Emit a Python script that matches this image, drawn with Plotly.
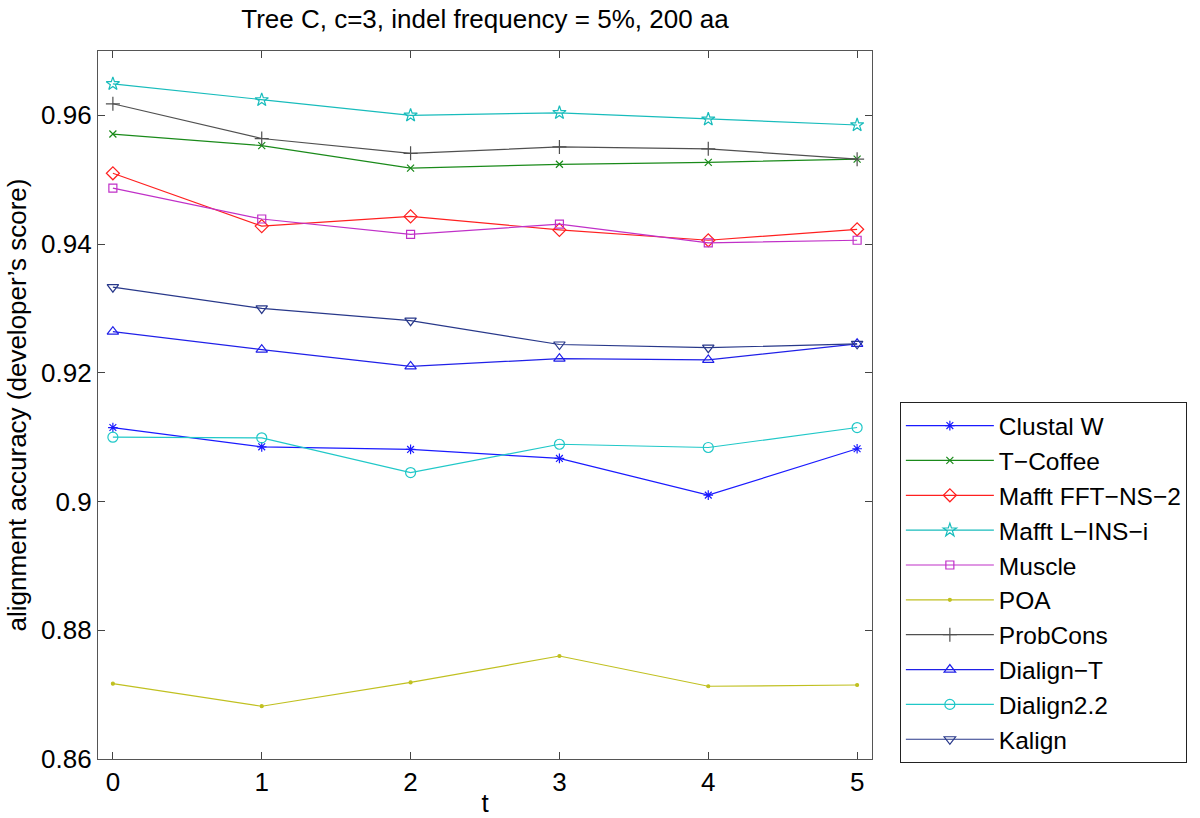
import plotly.graph_objects as go

t = [0, 1, 2, 3, 4, 5]
names = ["Clustal W", "T\u2212Coffee", "Mafft FFT\u2212NS\u22122", "Mafft L\u2212INS\u2212i",
         "Muscle", "POA", "ProbCons", "Dialign\u2212T", "Dialign2.2", "Kalign"]
clustal = [0.9115, 0.9085, 0.9081, 0.9067, 0.9010, 0.9082]
tcoffee = [0.9571, 0.9553, 0.9518, 0.9524, 0.9527, 0.9532]
mafft_fft = [0.9510, 0.9428, 0.9443, 0.9422, 0.9406, 0.9423]
mafft_lins = [0.9649, 0.9624, 0.9600, 0.9604, 0.9594, 0.9585]
muscle = [0.9487, 0.9439, 0.9415, 0.9431, 0.9402, 0.9406]
poa = [0.8717, 0.8682, 0.8719, 0.8760, 0.8713, 0.8715]
probcons = [0.9618, 0.9564, 0.9541, 0.9551, 0.9548, 0.9532]
dialign_t = [0.9264, 0.9236, 0.9210, 0.9222, 0.9220, 0.9245]
dialign22 = [0.9100, 0.9099, 0.9045, 0.9089, 0.9084, 0.9115]
kalign = [0.9333, 0.9300, 0.9281, 0.9244, 0.9239, 0.9245]
series = [clustal, tcoffee, mafft_fft, mafft_lins, muscle, poa, probcons, dialign_t, dialign22, kalign]

colors = ["#1a1aff", "#1a8a1a", "#ff2020", "#18bcbc", "#c030c8", "#c0c020",
          "#505050", "#2020e8", "#20c8c8", "#28388a"]
symbols = ["asterisk-open", "x-thin-open", "diamond-open", "star-open", "square-open",
           "circle", "cross-thin-open", "triangle-up-open", "circle-open", "triangle-down-open"]
sizes = [8, 7, 10, 10, 8, 3, 10, 10, 10, 10]

fig = go.Figure()
for n, s, c, sym, sz in zip(names, series, colors, symbols, sizes):
    fig.add_trace(go.Scatter(
        x=t, y=s, name=n, mode="lines+markers", legendgroup=n,
        line=dict(color=c, width=1.2),
        marker=dict(symbol=sym, size=sz, color=c, line=dict(color=c, width=1.2)),
    ))

font_family = "Liberation Sans, Arial, sans-serif"
fig.update_layout(
    width=1200, height=818,
    paper_bgcolor="white", plot_bgcolor="white",
    margin=dict(l=98, r=328, t=51, b=59),
    font=dict(family=font_family, size=26, color="black"),
    title=dict(text="Tree C, c=3, indel frequency = 5%, 200 aa", x=(98 + 872) / 2 / 1200,
               xanchor="center", y=1 - 19 / 818, yanchor="middle",
               font=dict(size=26, family=font_family)),
    showlegend=True,
    legend=dict(x=1.036, xanchor="left", y=0.504, yanchor="top",
                bordercolor="#222", borderwidth=1, bgcolor="white",
                font=dict(size=24.5, family=font_family),
                tracegroupgap=0, itemwidth=88),
)
fig.update_xaxes(range=[-0.1, 5.1], tickvals=t, ticks="inside", ticklen=7,
                 showline=True, linecolor="#555", linewidth=1.2, mirror="allticks",
                 showgrid=False, zeroline=False, automargin=False,
                 title=dict(text="t", standoff=0, font=dict(size=26)),
                 tickfont=dict(size=26))
fig.update_yaxes(range=[0.86, 0.97], tickvals=[0.86, 0.88, 0.9, 0.92, 0.94, 0.96],
                 ticktext=["0.86", "0.88", "0.9", "0.92", "0.94", "0.96"],
                 ticks="inside", ticklen=7,
                 showline=True, linecolor="#555", linewidth=1.2, mirror="allticks",
                 showgrid=False, zeroline=False, automargin=False,
                 title=dict(text="alignment accuracy (developer\u2019s score)", standoff=6,
                            font=dict(size=26)),
                 tickfont=dict(size=26))
fig.write_html("out.html", config={"displayModeBar": False},
               post_script="document.body.style.margin='0px';")
